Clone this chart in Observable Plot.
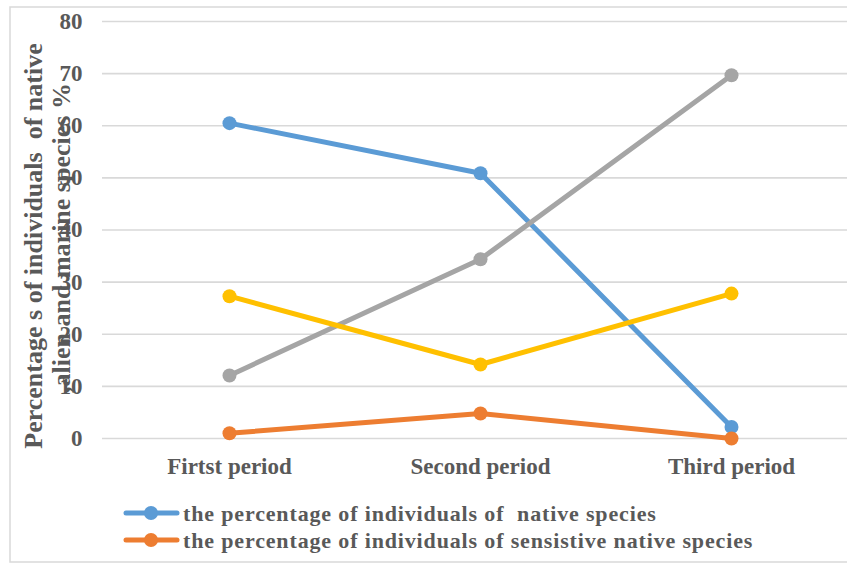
<!DOCTYPE html>
<html>
<head>
<meta charset="utf-8">
<script src="https://cdn.jsdelivr.net/npm/d3@7"></script>
<script src="https://cdn.jsdelivr.net/npm/@observablehq/plot@0.6"></script>
<style>
  html, body { margin: 0; padding: 0; background: #fff; }
  svg { display: block; }
</style>
</head>
<body>
<div id="chart"></div>
<script>
const categories = ["Firtst period", "Second period", "Third period"];
const seriesNames = [
  "the percentage of individuals of  native species",
  "the percentage of individuals of sensistive native species",
  "the percentage of individuals of alien species",
  "the percentage of individuals of marine species"
];
const nativeValues = [60.5, 50.9, 2.2];
const sensitiveValues = [1.0, 4.8, 0.0];
const alienValues = [12.1, 34.4, 69.7];
const marineValues = [27.3, 14.2, 27.8];
const seriesColors = ["#5B9BD5", "#ED7D31", "#A5A5A5", "#FFC000"];
const yTicks = [0, 10, 20, 30, 40, 50, 60, 70, 80];
const yTitleLines = ["Percentage s of individuals  of native", ",alien and marine species %"];

const allValues = [nativeValues, sensitiveValues, alienValues, marineValues];
const data = [];
allValues.forEach((vals, si) => {
  vals.forEach((v, i) => data.push({series: seriesNames[si], period: categories[i], value: v}));
});

const font = "'Liberation Serif', 'Times New Roman', serif";
const W = 847, H = 565;

const chart = Plot.plot({
  width: W,
  height: H,
  marginLeft: 102,
  marginRight: 0,
  marginTop: 21,
  marginBottom: 127,
  style: {fontFamily: font, background: "#fff"},
  x: {type: "point", domain: categories, range: [102, 857], label: null},
  y: {domain: [0, 80], label: null},
  color: {domain: seriesNames, range: seriesColors},
  marks: [
    Plot.ruleY(yTicks, {stroke: "#d9d9d9", strokeWidth: 1.6}),
    Plot.axisY({ticks: yTicks, tickSize: 0, tickPadding: 20, fontSize: 23, fontWeight: "bold", fill: "#595959", label: null}),
    Plot.axisX({tickSize: 0, tickPadding: 19, fontSize: 23, fontWeight: "bold", fill: "#595959", label: null}),
    Plot.line(data, {x: "period", y: "value", z: "series", stroke: "series", strokeWidth: 5, strokeLinecap: "round"}),
    Plot.dot(data, {x: "period", y: "value", fill: "series", r: 7, stroke: "none"})
  ]
});

document.getElementById("chart").appendChild(chart);
const svg = d3.select(chart);

// outer frame
svg.insert("rect", ":first-child")
  .attr("x", 10).attr("y", 7).attr("width", 860).attr("height", 555)
  .attr("fill", "none").attr("stroke", "#d9d9d9").attr("stroke-width", 1.5);

// y-axis title (two lines)
const tg = svg.append("g")
  .attr("font-family", font).attr("font-weight", "bold").attr("font-size", 26).attr("fill", "#595959")
  .attr("text-anchor", "middle");
tg.append("text").attr("transform", "translate(42,246) rotate(-90)").text(yTitleLines[0]);
tg.append("text").attr("transform", "translate(70,238) rotate(-90)").text(yTitleLines[1]);

// legend (first two series)
const lg = svg.append("g").attr("font-family", font).attr("font-weight", "bold").attr("font-size", 22)
  .attr("letter-spacing", "0.85px").attr("fill", "#595959").attr("text-anchor", "start");
[0, 1].forEach((si, k) => {
  const y = 513 + k * 27;
  lg.append("line").attr("x1", 126).attr("x2", 177).attr("y1", y).attr("y2", y)
    .attr("stroke", seriesColors[si]).attr("stroke-width", 5).attr("stroke-linecap", "round");
  lg.append("circle").attr("cx", 151).attr("cy", y).attr("r", 7).attr("fill", seriesColors[si]);
  lg.append("text").attr("x", 183).attr("y", y).attr("dy", "0.35em").text(seriesNames[si]);
});
</script>
</body>
</html>
